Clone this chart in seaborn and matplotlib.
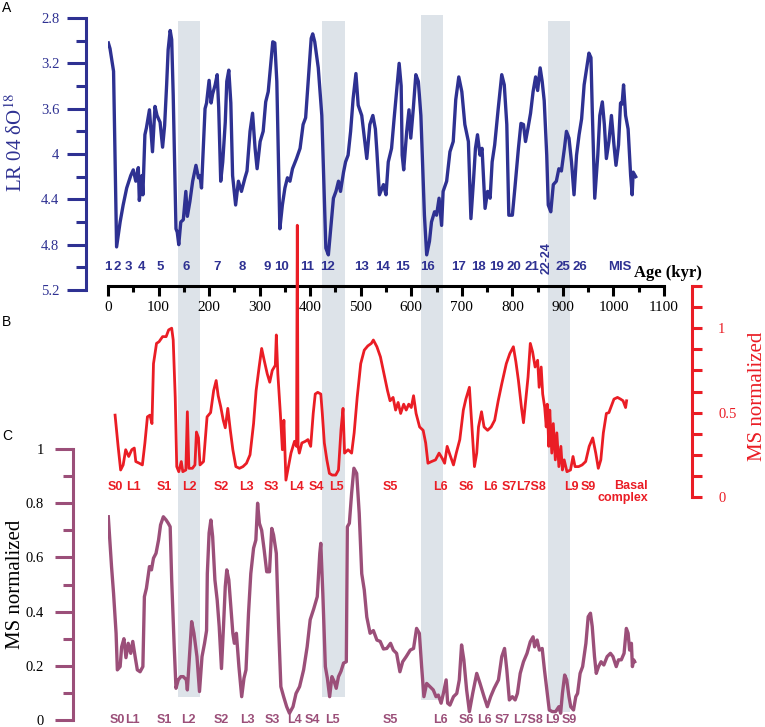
import numpy as np
import pandas as pd
import matplotlib
matplotlib.use("Agg")
import matplotlib.pyplot as plt
from matplotlib.ticker import FixedLocator, FuncFormatter
import seaborn as sns

# ---- data ----
lr04_age = [0.7, 4, 9, 11, 17, 24, 30, 37, 45, 50, 55, 60, 62, 67, 69, 73, 76, 82, 84.5, 88,
            93, 97, 103, 108, 112, 116, 119, 123, 126, 129, 134.5, 137, 140, 144, 149, 154, 157,
            162, 167.5, 174, 179, 182, 185, 192, 195, 200, 204, 207, 212, 216, 219, 223, 227,
            232, 235, 239, 243, 246.5, 252.5, 258, 264, 271, 275, 281, 286, 291, 295, 301, 307,
            312, 317, 322, 326, 330, 334, 338, 340, 345, 350, 355, 360, 365, 373, 380, 386, 391,
            396, 402, 405, 409, 416, 423, 427, 431, 436, 440, 446, 451, 456, 460, 466, 470, 475,
            480, 485, 490.5, 495, 502, 508, 512, 518, 524, 529, 532, 537, 545, 550, 554.5, 561,
            566, 571, 576, 580, 582, 585, 591, 595.5, 599, 604, 609, 614, 619, 626, 630.5, 636,
            640, 646, 650, 655, 660, 663, 670, 676.5, 683, 688, 694, 700, 706, 713, 718, 723,
            727, 731, 736, 740, 746, 751, 756, 760, 765, 772, 779, 784, 789, 793, 800, 805, 812,
            817, 822, 826, 831, 836, 841, 846, 850, 855, 859, 863, 868, 871, 876, 881, 887, 892,
            897, 903, 907, 912, 917, 922, 927, 932, 937, 942, 947, 951.5, 955.5, 958, 963, 969,
            973, 978, 982, 986, 991, 996, 1001, 1005, 1010, 1014, 1017, 1020, 1024, 1029, 1034,
            1037, 1039, 1044]
lr04_d18o = [3.02, 3.07, 3.21, 3.27, 4.82, 4.60, 4.45, 4.30, 4.19, 4.14, 4.24, 4.12, 4.41, 4.19,
             4.36, 3.83, 3.77, 3.61, 3.77, 3.98, 3.58, 3.66, 3.72, 3.94, 3.75, 3.39, 3.08, 2.91,
             2.99, 3.48, 4.66, 4.69, 4.80, 4.60, 4.58, 4.33, 4.55, 4.42, 4.24, 4.10, 4.21, 4.19,
             4.30, 3.60, 3.55, 3.35, 3.55, 3.47, 3.39, 3.30, 3.59, 4.24, 4.07, 3.72, 3.36, 3.26,
             3.55, 4.19, 4.45, 4.24, 4.33, 4.21, 4.15, 3.80, 3.64, 3.95, 4.13, 3.89, 3.80, 3.54,
             3.45, 3.21, 3.01, 3.02, 3.36, 4.21, 4.66, 4.45, 4.30, 4.21, 4.24, 4.13, 4.04, 3.95,
             3.74, 3.68, 3.36, 2.98, 2.94, 3.01, 3.24, 3.66, 4.24, 4.83, 4.89, 4.69, 4.39, 4.33,
             4.24, 4.33, 4.16, 4.07, 4.01, 3.80, 3.51, 3.29, 3.57, 3.66, 3.89, 4.04, 3.74, 3.66,
             3.78, 3.98, 4.36, 4.27, 4.36, 4.07, 3.95, 3.69, 3.45, 3.20, 3.40, 4.01, 4.14, 3.80,
             3.61, 3.86, 3.60, 3.30, 3.36, 3.66, 4.54, 4.89, 4.77, 4.60, 4.51, 4.54, 4.39, 4.63,
             4.33, 4.24, 3.98, 3.89, 3.52, 3.32, 3.45, 3.74, 3.89, 4.57, 4.24, 3.95, 3.83, 4.01,
             3.95, 4.48, 4.33, 4.39, 4.07, 3.92, 3.60, 3.30, 3.39, 3.74, 4.54, 4.54, 4.30, 3.95,
             3.73, 3.74, 3.89, 3.77, 3.64, 3.45, 3.32, 3.44, 3.24, 3.36, 3.53, 4.01, 4.45, 4.51,
             4.27, 4.24, 4.13, 4.15, 3.95, 3.80, 3.86, 4.07, 4.36, 4.01, 3.83, 3.69, 3.39, 3.24,
             3.11, 3.15, 3.60, 4.39, 4.01, 3.66, 3.54, 3.74, 4.04, 3.89, 3.66, 3.92, 4.10, 3.92,
             3.55, 3.56, 3.39, 3.66, 3.78, 4.19, 4.36, 4.16, 4.20]

ms_b_age = [14, 20, 25, 30, 35, 41, 47, 52, 55, 62, 68, 73, 78, 83, 87, 90, 96, 101, 108, 115,
            120, 126, 129, 133, 136, 140, 145, 148, 154, 157, 160, 167, 172, 175, 179, 182, 189,
            196, 203, 209, 214, 218, 223, 228, 232, 237, 242, 247, 253, 260, 267, 274, 281, 288,
            293, 299, 304, 309, 315, 320, 325, 331, 333, 336, 341, 345, 348, 352, 357, 362, 369,
            373, 374.5, 376, 378.5, 383.5, 390.5, 395.5, 401, 406, 410, 415, 421, 424, 428, 433,
            438, 443.5, 450.5, 456, 461, 465, 468, 475, 482, 487, 493, 500, 507, 514, 521, 525,
            532, 539, 546, 553, 558, 564, 569, 574, 579, 585, 590, 595, 600, 604.5, 609.5, 616.5,
            623.5, 628.5, 633, 640, 648, 655, 661, 666, 671, 676.5, 683.5, 689, 696, 703, 708,
            715, 720, 725, 729.5, 733, 739, 744, 751, 758, 765, 772, 779, 788, 795, 802, 807, 812,
            818, 822, 825, 831, 835.5, 840, 845, 850, 853, 857, 860, 864, 867, 869, 872, 874, 878,
            881, 885, 888, 892, 896, 899, 902.5, 908, 915, 920, 924, 931, 938, 945, 952, 959, 965,
            970, 975, 980, 986, 991, 996, 1001, 1008, 1014, 1019, 1024, 1026]
ms_b = [0.485, 0.30, 0.16, 0.19, 0.28, 0.24, 0.28, 0.29, 0.21, 0.20, 0.19, 0.32, 0.475, 0.485,
        0.435, 0.79, 0.91, 0.92, 0.95, 0.95, 0.99, 1.00, 0.93, 0.59, 0.18, 0.15, 0.21, 0.15, 0.16,
        0.505, 0.17, 0.17, 0.19, 0.385, 0.35, 0.19, 0.21, 0.475, 0.50, 0.63, 0.69, 0.60, 0.535,
        0.455, 0.41, 0.525, 0.395, 0.28, 0.18, 0.17, 0.18, 0.20, 0.25, 0.435, 0.63, 0.77, 0.88,
        0.81, 0.73, 0.68, 0.75, 0.78, 0.96, 0.73, 0.495, 0.28, 0.455, 0.10, 0.18, 0.26, 0.33,
        0.30, 1.61, 0.30, 0.26, 0.32, 0.33, 0.34, 0.30, 0.495, 0.61, 0.62, 0.61, 0.495, 0.32,
        0.22, 0.14, 0.13, 0.13, 0.16, 0.40, 0.525, 0.26, 0.28, 0.26, 0.38, 0.59, 0.79, 0.87,
        0.895, 0.91, 0.93, 0.89, 0.83, 0.73, 0.63, 0.57, 0.59, 0.515, 0.56, 0.495, 0.55, 0.515,
        0.55, 0.53, 0.60, 0.495, 0.415, 0.395, 0.32, 0.20, 0.21, 0.22, 0.26, 0.23, 0.20, 0.30,
        0.25, 0.19, 0.26, 0.34, 0.515, 0.58, 0.65, 0.415, 0.18, 0.26, 0.415, 0.505, 0.415, 0.395,
        0.415, 0.455, 0.57, 0.67, 0.79, 0.85, 0.89, 0.80, 0.69, 0.53, 0.44, 0.53, 0.71, 0.91,
        0.86, 0.77, 0.81, 0.65, 0.77, 0.61, 0.53, 0.415, 0.55, 0.30, 0.515, 0.26, 0.435, 0.22,
        0.38, 0.18, 0.30, 0.16, 0.22, 0.15, 0.16, 0.24, 0.18, 0.18, 0.19, 0.21, 0.30, 0.35, 0.26,
        0.17, 0.22, 0.38, 0.495, 0.50, 0.54, 0.58, 0.59, 0.58, 0.57, 0.53, 0.57]

ms_c_age = [0.6, 7, 11, 16, 18.5, 24, 27, 31.5, 35.5, 40, 45, 49, 54, 58, 63.5, 69, 72, 76, 82,
            86, 90, 95, 100, 104, 109.5, 115, 119.5, 123, 126, 131, 134.5, 139, 144, 149, 155,
            157, 161.5, 165.5, 170, 176, 181, 186, 191, 195, 196.5, 200, 203.5, 207, 211.5, 216,
            220, 224.5, 228.5, 232, 235, 239, 243, 247, 250, 254, 259, 264.5, 269, 273, 278,
            282.5, 288, 292.5, 296, 299.5, 304, 309, 314, 319.5, 324, 327.5, 333, 337.5, 342,
            347.5, 353.5, 359, 366, 372, 379, 387, 394, 400, 407, 414, 419, 421, 425, 430, 434,
            438.5, 443, 447.5, 451.5, 456, 461, 466, 471.5, 473.5, 477.5, 482, 486.5, 492, 497,
            502, 507, 512, 518.5, 525, 532, 538.5, 545, 551.5, 559, 564.5, 571, 577.5, 583, 590,
            598, 604.5, 610.5, 616, 620.5, 625, 630.5, 637, 643.5, 649, 653.5, 659, 663.5, 669,
            672, 676.5, 683.5, 690, 695, 699.5, 704, 709.5, 715, 721.5, 729.5, 736, 744, 750.5,
            757, 764, 772.5, 779, 784.5, 789, 794, 800, 805.5, 810, 815.5, 822, 829, 835.5, 841,
            844, 849, 853.5, 859, 863.5, 869, 873, 879, 885.5, 892, 895.5, 899, 903.5, 907.5, 912,
            915.5, 921, 925.5, 929, 934, 939, 945.5, 950, 954.5, 958, 962.5, 966, 970.5, 975.5,
            981, 987.5, 994, 999, 1005.5, 1010, 1015.5, 1021, 1025.5, 1029, 1032, 1035.5, 1037.5,
            1040, 1042]
ms_c = [0.75, 0.566, 0.467, 0.32, 0.185, 0.197, 0.27, 0.30, 0.23, 0.283, 0.246, 0.29, 0.23,
        0.185, 0.178, 0.197, 0.455, 0.486, 0.566, 0.554, 0.597, 0.615, 0.664, 0.72, 0.75, 0.738,
        0.725, 0.713, 0.517, 0.27, 0.117, 0.148, 0.16, 0.16, 0.148, 0.111, 0.246, 0.363, 0.32,
        0.234, 0.105, 0.234, 0.283, 0.33, 0.54, 0.69, 0.738, 0.677, 0.517, 0.443, 0.345, 0.19,
        0.345, 0.492, 0.554, 0.517, 0.418, 0.32, 0.283, 0.32, 0.197, 0.086, 0.154, 0.185, 0.394,
        0.54, 0.634, 0.664, 0.80, 0.726, 0.70, 0.627, 0.547, 0.547, 0.707, 0.683, 0.615, 0.345,
        0.123, 0.086, 0.049, 0.025, 0.049, 0.098, 0.123, 0.185, 0.27, 0.37, 0.41, 0.455, 0.615,
        0.652, 0.467, 0.197, 0.154, 0.086, 0.16, 0.142, 0.117, 0.16, 0.18, 0.21, 0.215, 0.713,
        0.726, 0.837, 0.929, 0.91, 0.763, 0.54, 0.48, 0.38, 0.32, 0.33, 0.295, 0.29, 0.262,
        0.264, 0.283, 0.258, 0.246, 0.178, 0.215, 0.234, 0.258, 0.264, 0.338, 0.32, 0.197, 0.086,
        0.135, 0.123, 0.111, 0.086, 0.092, 0.062, 0.098, 0.148, 0.062, 0.055, 0.086, 0.098,
        0.148, 0.277, 0.222, 0.111, 0.031, 0.098, 0.172, 0.135, 0.086, 0.049, 0.086, 0.117,
        0.148, 0.234, 0.264, 0.185, 0.074, 0.086, 0.074, 0.098, 0.172, 0.215, 0.246, 0.289,
        0.307, 0.27, 0.295, 0.258, 0.264, 0.185, 0.098, 0.037, 0.031, 0.031, 0.049, 0.025, 0.098,
        0.166, 0.148, 0.086, 0.049, 0.037, 0.086, 0.098, 0.172, 0.197, 0.283, 0.381, 0.394,
        0.345, 0.234, 0.172, 0.197, 0.215, 0.203, 0.234, 0.246, 0.234, 0.197, 0.222, 0.222,
        0.246, 0.338, 0.32, 0.258, 0.283, 0.197, 0.222, 0.215]

# glacial bands (kyr)
band_start = [138, 424, 619, 871]
band_end = [182, 468, 662, 915]

mis_labels = ["1", "2", "3", "4", "5", "6", "7", "8", "9", "10", "11", "12", "13", "14", "15",
              "16", "17", "18", "19", "20", "21", "25", "26"]
mis_age = [-1, 18, 41, 67, 103, 154, 216, 265, 314, 344, 394, 435, 502, 544, 583, 633, 694,
           732, 769, 803, 839, 900, 934]

b_labels = ["S0", "L1", "S1", "L2", "S2", "L3", "S3", "L4", "S4", "L5", "S5", "L6", "S6", "L6",
            "S7", "L7S8", "L9", "S9"]
b_label_age = [14, 50, 111, 161, 225, 273, 323, 373, 412, 451, 558, 657, 709, 757, 793, 837,
               917, 951]
c_labels = ["S0", "L1", "S1", "L2", "S2", "L3", "S3", "L4", "S4", "L5", "S5", "L6", "S6", "L6",
            "S7", "L7S8", "L9", "S9"]
c_label_age = [18, 49, 111, 160, 225, 275, 326, 368, 404, 445, 558, 657, 708, 744, 781, 831,
               880, 912]

BLUE = "#2e3192"
RED = "#ea1d25"
PURPLE = "#9b4f79"
BAND = "#dde3e9"

plt.rcParams["font.family"] = ["Liberation Serif", "DejaVu Serif"]
plt.rcParams["mathtext.fontset"] = "stix"

W, H = 765, 727
fig = plt.figure(figsize=(W / 100, H / 100), dpi=100)


def box(top, bottom, left=108, right=664):
    return [left / W, 1 - bottom / H, (right - left) / W, (bottom - top) / H]


def clean(ax):
    ax.patch.set_visible(False)
    ax.set_xlim(0, 1100)
    ax.set_xlabel("")
    ax.set_ylabel("")
    for s in ax.spines.values():
        s.set_visible(False)


# background bands
ax_bg = fig.add_axes(box(0, H))
clean(ax_bg)
ax_bg.set_ylim(0, 1)
ax_bg.set_xticks([])
ax_bg.set_yticks([])
band_top = [21, 21, 15, 21]
band_bottom = [697, 697, 700, 712]
for x0, x1, t, b in zip(band_start, band_end, band_top, band_bottom):
    ax_bg.axvspan(x0, x1, ymin=1 - b / H, ymax=1 - t / H, color=BAND, lw=0)

fmt = FuncFormatter(lambda v, p: f"{v:g}")

# ---- panel A : LR04 ----
ax_a = fig.add_axes(box(18, 290))
sns.lineplot(x=lr04_age, y=lr04_d18o, ax=ax_a, color=BLUE, linewidth=2.4,
             estimator=None, sort=False)
clean(ax_a)
ax_a.set_ylim(5.2, 2.8)
ax_a.spines["left"].set_visible(True)
ax_a.spines["left"].set_position(("outward", 16))
ax_a.spines["left"].set_bounds(2.8, 5.2)
ax_a.spines["left"].set_color(BLUE)
ax_a.spines["left"].set_linewidth(2.2)
ax_a.spines["bottom"].set_visible(True)
ax_a.spines["bottom"].set_position(("data", 5.165))
ax_a.spines["bottom"].set_bounds(0, 1100)
ax_a.spines["bottom"].set_linewidth(2.2)
ax_a.yaxis.set_major_locator(FixedLocator(np.arange(2.8, 5.21, 0.4)))
ax_a.yaxis.set_minor_locator(FixedLocator(np.arange(3.0, 5.1, 0.4)))
ax_a.yaxis.set_major_formatter(fmt)
ax_a.tick_params(axis="y", which="major", length=14, width=2.2, color=BLUE,
                 labelcolor=BLUE, labelsize=10.5, pad=5)
ax_a.tick_params(axis="y", which="minor", length=7, width=2.2, color=BLUE)
ax_a.xaxis.set_major_locator(FixedLocator(np.arange(0, 1101, 100)))
ax_a.xaxis.set_minor_locator(FixedLocator(np.arange(50, 1100, 100)))
ax_a.tick_params(axis="x", which="major", length=7, width=2.2, labelsize=11, pad=4)
ax_a.tick_params(axis="x", which="minor", length=4, width=2.2)

for lab, age in zip(mis_labels, mis_age):
    ax_a.text(age, 5.0, lab, color=BLUE, fontsize=9.5, fontweight="bold",
              family="Liberation Sans", ha="center", va="center")
ax_a.text(868, 4.92, "22-24", color=BLUE, fontsize=9, fontweight="bold",
          family="Liberation Sans", ha="center", va="center", rotation=90)
ax_a.text(1013, 5.0, "MIS", color=BLUE, fontsize=9.5, fontweight="bold",
          family="Liberation Sans", ha="center", va="center")
ax_a.text(1107, 5.05, "Age (kyr)", fontsize=12, fontweight="bold", ha="center", va="center")

# ---- panel C : MS (purple) ----
ax_c = fig.add_axes(box(449, 720))
sns.lineplot(x=ms_c_age, y=ms_c, ax=ax_c, color=PURPLE, linewidth=2.4,
             estimator=None, sort=False)
clean(ax_c)
ax_c.set_ylim(0, 1)
ax_c.set_xticks([])
ax_c.spines["left"].set_visible(True)
ax_c.spines["left"].set_position(("outward", 25))
ax_c.spines["left"].set_color(PURPLE)
ax_c.spines["left"].set_linewidth(2.2)
ax_c.yaxis.set_major_locator(FixedLocator(np.arange(0, 1.01, 0.2)))
ax_c.yaxis.set_minor_locator(FixedLocator(np.arange(0.1, 1.0, 0.2)))
ax_c.yaxis.set_major_formatter(fmt)
ax_c.tick_params(axis="y", which="major", length=13, width=2.2, color=PURPLE,
                 labelsize=10.5, pad=8)
ax_c.tick_params(axis="y", which="minor", length=7, width=2.2, color=PURPLE)
for lab, age in zip(c_labels, c_label_age):
    ax_c.text(age, 0.0, lab, color=PURPLE, fontsize=9, fontweight="bold",
              family="Liberation Sans", ha="center", va="center")

# ---- panel B : MS (red) ----
ax_b = fig.add_axes(box(286, 497))
sns.lineplot(x=ms_b_age, y=ms_b, ax=ax_b, color=RED, linewidth=2.0,
             estimator=None, sort=False)
clean(ax_b)
for ln in ax_b.lines:
    ln.set_clip_on(False)
ax_b.set_ylim(0, 1.25)
ax_b.set_xticks([])
ax_b.yaxis.tick_right()
ax_b.spines["right"].set_visible(True)
ax_b.spines["right"].set_position(("outward", 20))
ax_b.spines["right"].set_color(RED)
ax_b.spines["right"].set_linewidth(2.2)
ax_b.yaxis.set_major_locator(FixedLocator([0, 0.5, 1]))
ax_b.yaxis.set_minor_locator(FixedLocator(np.arange(0, 1.26, 0.125)))
ax_b.yaxis.set_major_formatter(fmt)
ax_b.tick_params(axis="y", which="both", length=7, width=2.2, color=RED,
                 labelcolor=RED, labelsize=10.5, pad=12)
for lab, age in zip(b_labels, b_label_age):
    ax_b.text(age, 0.059, lab, color=RED, fontsize=9, fontweight="bold",
              family="Liberation Sans", ha="center", va="center")
ax_b.text(1068, 0.1, "Basal\ncomplex", color=RED, fontsize=9, fontweight="bold",
          family="Liberation Sans", ha="right", va="top", multialignment="right",
          linespacing=0.95)

# axis titles and panel letters
fig.text(16 / W, 1 - 142 / H, "LR 04 δO$^{18}$", color=BLUE, fontsize=15,
         rotation=90, ha="center", va="center")
fig.text(757 / W, 1 - 396 / H, "MS normalized", color=RED, fontsize=15,
         rotation=90, ha="center", va="center")
fig.text(16 / W, 1 - 584 / H, "MS normalized", color="black", fontsize=15,
         rotation=90, ha="center", va="center")
for letter, y in zip(["A", "B", "C"], [8, 322, 436]):
    fig.text(2 / W, 1 - y / H, letter, fontsize=10, family="Liberation Sans",
             ha="left", va="center")

fig.savefig("out.png", dpi=100)
